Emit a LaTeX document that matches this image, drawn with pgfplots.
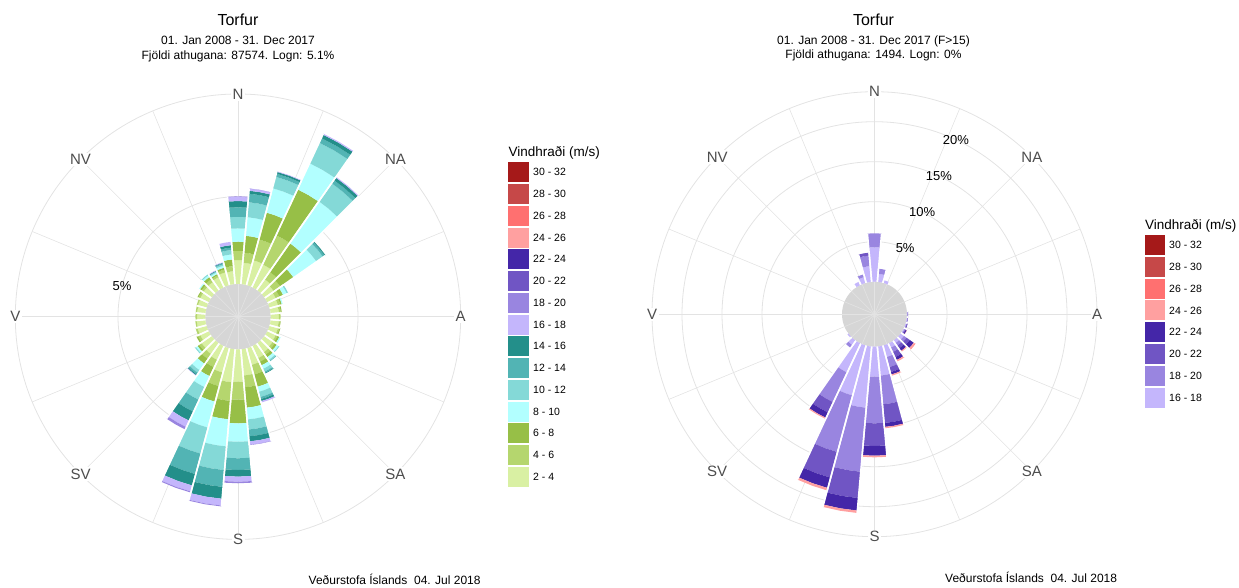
\documentclass[border=0pt]{standalone}
\usepackage{fontspec}
\setmainfont{Liberation Sans}
\usepackage{pgfplots}
\usepackage{pgfplotstable}
\pgfplotsset{compat=1.18}

\definecolor{c1}{HTML}{D9F0A3}
\definecolor{c2}{HTML}{B5D66E}
\definecolor{c3}{HTML}{97BF47}
\definecolor{c4}{HTML}{B2FFFF}
\definecolor{c5}{HTML}{84D9D7}
\definecolor{c6}{HTML}{52B4B4}
\definecolor{c7}{HTML}{238F8A}
\definecolor{c8}{HTML}{C4B6FC}
\definecolor{c9}{HTML}{9985E0}
\definecolor{c10}{HTML}{7055C4}
\definecolor{c11}{HTML}{4426A8}
\definecolor{c12}{HTML}{FFA0A0}
\definecolor{c13}{HTML}{FF7070}
\definecolor{c14}{HTML}{C64848}
\definecolor{c15}{HTML}{A51919}
\definecolor{gridc}{HTML}{E3E3E3}
\definecolor{calmc}{HTML}{D6D6D6}
\definecolor{labc}{HTML}{4D4D4D}

% cumulative percentages per direction; columns a..i = 2-4 ... 18-20 m/s
\pgfplotstableread{
dir z a b c d e f g h i
0 0 1.37 1.90 2.42 3.18 3.85 4.39 4.75 5.00 5.02
10 0 1.23 1.81 2.78 3.85 4.71 5.20 5.37 5.49 5.50
20 0 1.47 2.71 4.31 5.75 6.43 6.61 6.72 6.75 6.75
30 0 1.43 3.28 6.18 7.83 9.13 9.42 9.64 9.70 9.70
40 0 0.76 1.27 3.28 6.20 7.47 7.69 7.87 7.92 7.92
50 0 0.64 1.10 2.02 3.62 4.08 4.20 4.25 4.25 4.25
60 0 0.53 0.76 0.99 1.22 1.30 1.30 1.30 1.30 1.30
70 0 0.50 0.64 0.73 0.79 0.79 0.79 0.79 0.79 0.79
80 0 0.47 0.58 0.64 0.64 0.64 0.64 0.64 0.64 0.64
90 0 0.47 0.56 0.56 0.56 0.56 0.56 0.56 0.56 0.56
100 0 0.47 0.56 0.58 0.58 0.58 0.58 0.58 0.58 0.58
110 0 0.50 0.58 0.64 0.64 0.64 0.64 0.64 0.64 0.64
120 0 0.53 0.64 0.76 0.84 0.84 0.84 0.84 0.84 0.84
130 0 0.58 0.73 0.87 0.99 1.04 1.04 1.04 1.04 1.04
140 0 0.64 0.81 0.99 1.16 1.24 1.27 1.27 1.27 1.27
150 0 0.76 0.99 1.22 1.44 1.62 1.70 1.73 1.73 1.73
160 0 0.99 1.56 2.29 2.59 2.90 3.02 3.14 3.22 3.22
170 0 1.51 2.19 3.36 4.04 4.62 5.01 5.30 5.49 5.51
180 0 1.85 2.88 4.24 5.29 6.24 6.91 7.29 7.58 7.67
190 0 1.90 2.97 4.03 5.59 6.95 7.92 8.60 8.99 9.04
200 0 1.44 2.25 3.17 4.71 6.26 7.47 8.15 8.50 8.56
210 0 0.87 1.33 1.90 2.59 3.39 4.14 4.71 5.11 5.26
220 0 0.76 1.10 1.44 1.90 2.08 2.19 2.25 2.27 2.27
230 0 0.70 0.87 0.99 1.10 1.16 1.16 1.16 1.16 1.16
240 0 0.53 0.67 0.76 0.76 0.76 0.76 0.76 0.76 0.76
250 0 0.53 0.64 0.64 0.64 0.64 0.64 0.64 0.64 0.64
260 0 0.50 0.58 0.58 0.58 0.58 0.58 0.58 0.58 0.58
270 0 0.47 0.56 0.56 0.56 0.56 0.56 0.56 0.56 0.56
280 0 0.47 0.56 0.56 0.56 0.56 0.56 0.56 0.56 0.56
290 0 0.50 0.58 0.58 0.58 0.58 0.58 0.58 0.58 0.58
300 0 0.53 0.64 0.70 0.70 0.70 0.70 0.70 0.70 0.70
310 0 0.56 0.70 0.81 0.87 0.87 0.87 0.87 0.87 0.87
320 0 0.58 0.76 0.93 1.04 1.10 1.10 1.10 1.10 1.10
330 0 0.64 0.76 0.84 0.93 0.99 1.01 1.04 1.07 1.07
340 0 0.76 0.93 1.04 1.16 1.24 1.30 1.33 1.36 1.36
350 0 0.74 1.03 1.42 1.71 1.96 2.10 2.24 2.43 2.43
}\leftdata

% F>15: columns p..u = 16-18 ... 26-28 m/s (cumulative)
\pgfplotstableread{
dir z p q r s t u
0 0 4.30 6.05 6.05 6.05 6.05 6.05
10 0 1.00 1.64 1.64 1.64 1.64 1.64
20 0 0.35 0.35 0.35 0.35 0.35 0.35
30 0 0 0 0 0 0 0
40 0 0 0 0 0 0 0
50 0 0 0 0 0 0 0
60 0 0 0 0 0 0 0
70 0 0 0 0 0 0 0
80 0 0 0 0 0 0 0
90 0 0.05 0.10 0.15 0.15 0.15 0.15
100 0 0.05 0.10 0.15 0.15 0.15 0.15
110 0 0.10 0.15 0.20 0.25 0.25 0.25
120 0 0.10 0.20 0.30 0.44 0.46 0.46
130 0 0.50 0.90 1.40 2.00 2.20 2.25
140 0 0.40 0.80 1.20 1.60 1.73 1.73
150 0 0.60 1.20 1.90 2.30 2.50 2.50
160 0 1.50 2.80 3.45 3.76 3.92 3.92
170 0 3.65 7.25 9.59 10.09 10.26 10.26
180 0 3.75 9.58 12.41 13.63 13.83 13.83
190 0 7.68 15.71 19.01 20.58 20.88 20.88
200 0 6.46 13.78 17.10 18.44 18.75 18.75
210 0 3.99 8.09 9.53 10.25 10.39 10.39
220 0 0.70 1.10 1.10 1.10 1.10 1.10
230 0 0.15 0.15 0.15 0.15 0.15 0.15
240 0 0 0 0 0 0 0
250 0 0 0 0 0 0 0
260 0 0 0 0 0 0 0
270 0 0 0 0 0 0 0
280 0 0 0 0 0 0 0
290 0 0 0 0 0 0 0
300 0 0 0 0 0 0 0
310 0 0 0 0 0 0 0
320 0 0 0 0 0 0 0
330 0 0.45 0.45 0.45 0.45 0.45 0.45
340 0 0.75 1.10 1.10 1.10 1.10 1.10
350 0 1.97 3.30 3.66 3.66 3.66 3.66
}\rightdata

% #1 table, #2 previous column, #3 column, #4 colour, #5 radial offset (calm circle)
\newcommand\roseclass[5]{%
  \pgfplotsforeachungrouped \rosei in {0,...,35}{%
    \pgfplotstablegetelem{\rosei}{dir}\of{#1}\edef\rdir{\pgfplotsretval}%
    \pgfplotstablegetelem{\rosei}{#2}\of{#1}\edef\rpa{\pgfplotsretval}%
    \pgfplotstablegetelem{\rosei}{#3}\of{#1}\edef\rpb{\pgfplotsretval}%
    \pgfmathsetmacro\rdif{\rpb-\rpa}%
    \ifdim\rdif pt>0.004pt\relax
      \pgfmathsetmacro\rosera{\rpa+#5}%
      \pgfmathsetmacro\roserb{\rpb+#5}%
      \pgfmathsetmacro\angC{90-\rdir}%
      \pgfmathsetmacro\angL{\angC+5}%
      \pgfmathsetmacro\angR{\angC-5}%
      \edef\rosecmd{\noexpand\addplot[fill=#4,draw=none,forget plot,data cs=polar] coordinates {(\angL,\rosera) (\angC,\rosera) (\angR,\rosera) (\angR,\roserb) (\angC,\roserb) (\angL,\roserb)};}%
      \rosecmd
    \fi
  }%
}
% white separating edges of each bar
\newcommand\roseedges[3]{%
  \pgfplotsforeachungrouped \rosei in {0,...,35}{%
    \pgfplotstablegetelem{\rosei}{dir}\of{#1}\edef\rdir{\pgfplotsretval}%
    \pgfplotstablegetelem{\rosei}{#2}\of{#1}\edef\rpb{\pgfplotsretval}%
    \ifdim\rpb pt>0.004pt\relax
      \pgfmathsetmacro\roserb{\rpb+#3}%
      \pgfmathsetmacro\angC{90-\rdir}%
      \pgfmathsetmacro\angL{\angC+5}%
      \pgfmathsetmacro\angR{\angC-5}%
      \edef\rosecmd{\noexpand\addplot[draw=white,line width=1.5pt,forget plot,data cs=polar] coordinates {(\angL,#3) (\angL,\roserb)};
        \noexpand\addplot[draw=white,line width=1.5pt,forget plot,data cs=polar] coordinates {(\angR,#3) (\angR,\roserb)};}%
      \rosecmd
    \fi
  }%
}

\begin{document}
\begin{tikzpicture}
\path[use as bounding box] (0,0) rectangle (1239pt,587pt);

% ---------- left grid ----------
\begin{scope}[shift={(238pt,270.3pt)},x=1pt,y=1pt]
  \draw[gridc,line width=0.8pt] (0,0) circle[radius=120pt];
  \draw[gridc,line width=0.8pt] (0,0) circle[radius=222.7pt];
  \fill[calmc] (0,0) circle[radius=32.8pt];
  \foreach \a in {0,22.5,...,337.5} \draw[gridc,line width=0.6pt] (0,0) -- (\a:222.7pt);
  \foreach \a/\t in {90/N,45/NA,0/A,-45/SA,-90/S,-135/SV,180/V,135/NV}
    \node[fill=white,inner sep=1.5pt,text=labc,font=\fontsize{15pt}{17pt}\selectfont] at (\a:222.7pt) {\t};
  \node[font=\fontsize{13pt}{15pt}\selectfont] at (165:120pt) {5\%};
\end{scope}

% ---------- right grid ----------
\begin{scope}[shift={(874.5pt,272.8pt)},x=1pt,y=1pt]
  \foreach \r in {72.5,112.5,152.5,192.5,222.5} \draw[gridc,line width=0.8pt] (0,0) circle[radius=\r pt];
  \fill[calmc] (0,0) circle[radius=32.5pt];
  \foreach \a in {0,22.5,...,337.5} \draw[gridc,line width=0.6pt] (0,0) -- (\a:222.5pt);
  \foreach \a/\t in {90/N,45/NA,0/A,-45/SA,-90/S,-135/SV,180/V,135/NV}
    \node[fill=white,inner sep=1.5pt,text=labc,font=\fontsize{15pt}{17pt}\selectfont] at (\a:222.5pt) {\t};
\end{scope}

% ---------- left rose ----------
\begin{axis}[at={(238pt,270.3pt)},anchor=origin,scale only axis,
  width=453.44pt,height=453.44pt,xmin=-13,xmax=13,ymin=-13,ymax=13,
  hide axis,clip=false]
  \roseclass{\leftdata}{z}{a}{c1}{1.881}
  \roseclass{\leftdata}{a}{b}{c2}{1.881}
  \roseclass{\leftdata}{b}{c}{c3}{1.881}
  \roseclass{\leftdata}{c}{d}{c4}{1.881}
  \roseclass{\leftdata}{d}{e}{c5}{1.881}
  \roseclass{\leftdata}{e}{f}{c6}{1.881}
  \roseclass{\leftdata}{f}{g}{c7}{1.881}
  \roseclass{\leftdata}{g}{h}{c8}{1.881}
  \roseclass{\leftdata}{h}{i}{c9}{1.881}
  \roseedges{\leftdata}{i}{1.881}
\end{axis}

% ---------- right rose ----------
\begin{axis}[at={(874.5pt,272.8pt)},anchor=origin,scale only axis,
  width=448pt,height=448pt,xmin=-28,xmax=28,ymin=-28,ymax=28,
  hide axis,clip=false]
  \roseclass{\rightdata}{z}{p}{c8}{4.0625}
  \roseclass{\rightdata}{p}{q}{c9}{4.0625}
  \roseclass{\rightdata}{q}{r}{c10}{4.0625}
  \roseclass{\rightdata}{r}{s}{c11}{4.0625}
  \roseclass{\rightdata}{s}{t}{c12}{4.0625}
  \roseclass{\rightdata}{t}{u}{c13}{4.0625}
  \roseedges{\rightdata}{u}{4.0625}
\end{axis}

% percent labels right
\begin{scope}[shift={(874.5pt,272.8pt)},x=1pt,y=1pt]
  \foreach \r/\t in {72.5/5,112.5/10,152.5/15,192.5/20}
    \node[font=\fontsize{13pt}{15pt}\selectfont] at (65:\r pt) {\t\%};
\end{scope}

\begin{scope}[x=1pt,y=1pt]
  % titles
  \node[anchor=base,font=\fontsize{16pt}{19pt}\selectfont] at (238,561.3) {Torfur};
  \node[anchor=base,font=\fontsize{12pt}{14pt}\selectfont] at (238,542.7) {01. Jan 2008 - 31. Dec 2017};
  \node[anchor=base,font=\fontsize{12pt}{14pt}\selectfont] at (238,527.7) {Fjöldi athugana: 87574. Logn: 5.1\%};
  \node[anchor=base,font=\fontsize{16pt}{19pt}\selectfont] at (873.5,561.3) {Torfur};
  \node[anchor=base,font=\fontsize{12pt}{14pt}\selectfont] at (873.5,542.7) {01. Jan 2008 - 31. Dec 2017 (F>15)};
  \node[anchor=base,font=\fontsize{12pt}{14pt}\selectfont] at (873.5,528.7) {Fjöldi athugana: 1494. Logn: 0\%};
  % footers
  \node[anchor=base west,inner sep=0pt,font=\fontsize{12pt}{14pt}\selectfont] at (308.5,2.7) {Veðurstofa Íslands\ \ 04. Jul 2018};
  \node[anchor=base west,inner sep=0pt,font=\fontsize{12pt}{14pt}\selectfont] at (945,4.7) {Veðurstofa Íslands\ \ 04. Jul 2018};
  % left legend
  \node[anchor=base west,inner sep=0pt,font=\fontsize{13.5pt}{16pt}\selectfont] at (508.5,430.4) {Vindhraði (m/s)};
  \foreach \col/\lab [count=\i from 0] in {c15/30 - 32,c14/28 - 30,c13/26 - 28,c12/24 - 26,c11/22 - 24,c10/20 - 22,c9/18 - 20,c8/16 - 18,c7/14 - 16,c6/12 - 14,c5/10 - 12,c4/8 - 10,c3/6 - 8,c2/4 - 6,c1/2 - 4}{
    \fill[\col] (508.3,{424.7-21.75*\i}) rectangle (529.3,{404.7-21.75*\i});
    \node[anchor=west,inner sep=0pt,font=\fontsize{10.5pt}{12pt}\selectfont] at (533,{414.7-21.75*\i}) {\lab};
  }
  % right legend
  \node[anchor=base west,inner sep=0pt,font=\fontsize{13.5pt}{16pt}\selectfont] at (1145,357.1) {Vindhraði (m/s)};
  \foreach \col/\lab [count=\i from 0] in {c15/30 - 32,c14/28 - 30,c13/26 - 28,c12/24 - 26,c11/22 - 24,c10/20 - 22,c9/18 - 20,c8/16 - 18}{
    \fill[\col] (1145,{352-21.8*\i}) rectangle (1165,{332-21.8*\i});
    \node[anchor=west,inner sep=0pt,font=\fontsize{10.5pt}{12pt}\selectfont] at (1169,{342-21.8*\i}) {\lab};
  }
\end{scope}
\end{tikzpicture}
\end{document}
